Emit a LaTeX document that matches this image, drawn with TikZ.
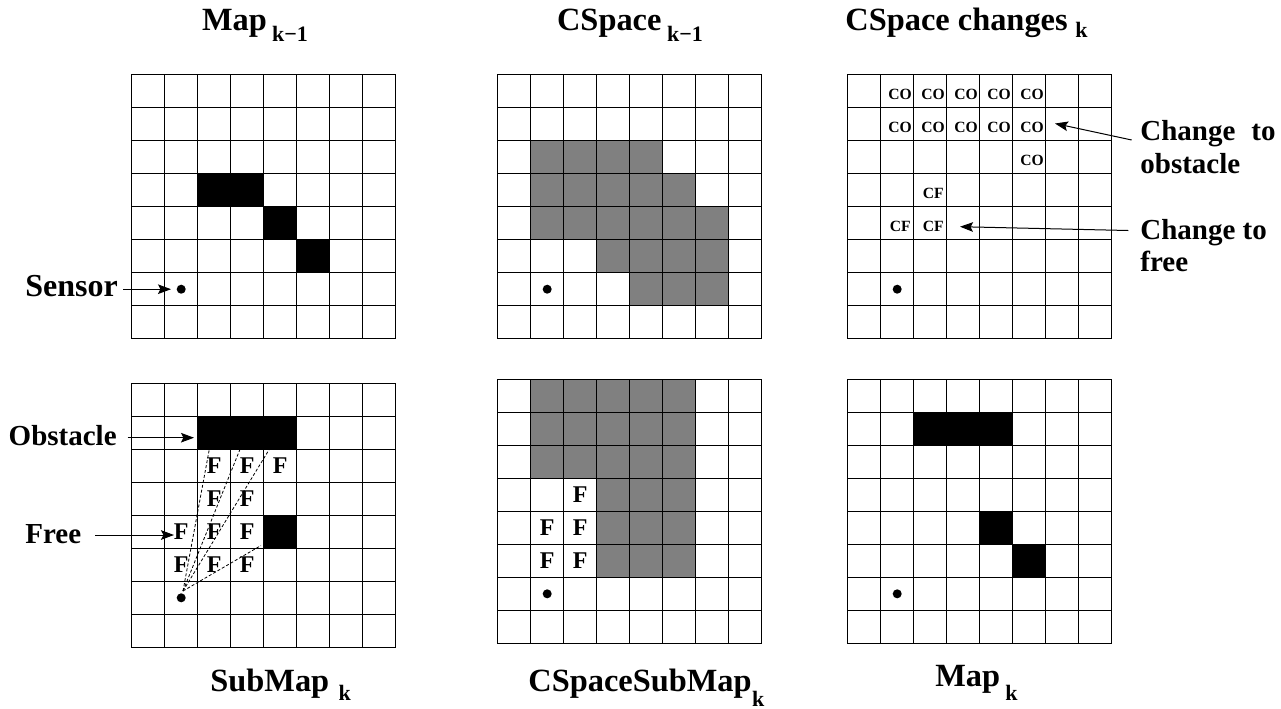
\documentclass[tikz,border=0pt]{standalone}
\usepackage{fontspec}
\setmainfont{Liberation Serif}
\usetikzlibrary{arrows.meta}
\definecolor{cgray}{RGB}{128,128,128}
\tikzset{
  gridline/.style={line width=0.6pt, line cap=rect},
  ttl/.style={font=\fontsize{16.2}{18}\selectfont\bfseries, inner sep=0pt, anchor=base west},
  subs/.style={font=\fontsize{11}{12}\selectfont\bfseries, inner sep=0pt, anchor=base west},
  lbl/.style={font=\fontsize{14.5}{16}\selectfont\bfseries, inner sep=0pt, anchor=base west},
  ftxt/.style={font=\fontsize{12}{14}\selectfont\bfseries, inner sep=0pt},
  ctxt/.style={font=\fontsize{7.8}{9}\selectfont\bfseries, inner sep=0pt},
  dotn/.style={circle, fill=black, inner sep=0pt, minimum size=4.5pt},
  arr/.style={-{Stealth[length=6.5pt,width=4.8pt,inset=1.2pt]}, line width=0.5pt},
  ray/.style={dash pattern=on 1.5pt off 1pt, line width=0.4pt},
  obst/.style={fill=black},
  cspc/.style={fill=cgray}
}
\newcommand{\gridlines}{%
  \foreach \i in {0,...,8}{\draw[gridline] (\i,0)--(\i,8); \draw[gridline] (0,\i)--(8,\i);}}
\begin{document}
\begin{tikzpicture}[x=0.5pt,y=-0.5pt]
\useasboundingbox (0,0) rectangle (1281,708);
\fill[white] (0,0) rectangle (1281,708);

% ---------- titles ----------
\node[ttl] (t1) at (201.7,30) {Map};
\node[subs] (t1s) at (271.7,41.7) {k−1};
\node[ttl] (t2) at (556.7,30) {CSpace};
\node[subs] (t2s) at (666.7,41.7) {k−1};
\node[ttl] (t3) at (845,30) {CSpace changes};
\node[subs] (t3s) at (1075,37.3) {k};
\node[ttl] (t4) at (210,691.7) {SubMap};
\node[subs] (t4s) at (338.3,700) {k};
\node[ttl] (t5) at (528,691.7) {CSpaceSubMap};
\node[subs] (t5s) at (751.7,706) {k};
\node[ttl] (t6) at (935,686.7) {Map};
\node[subs] (t6s) at (1005,700) {k};

% ---------- grid 1: Map_{k-1} ----------
\begin{scope}[shift={(131.7,74.7)}, x=16.5pt, y=-16.5pt]
  \fill[obst] (2,3) rectangle (4,4);
  \fill[obst] (4,4) rectangle (5,5);
  \fill[obst] (5,5) rectangle (6,6);
  \gridlines
  \node[dotn] (g1dot) at (1.5,6.5) {};
\end{scope}

% ---------- grid 2: CSpace_{k-1} ----------
\begin{scope}[shift={(497.7,74.7)}, x=16.5pt, y=-16.5pt]
  \fill[cspc] (1,2) rectangle (5,3);
  \fill[cspc] (1,3) rectangle (6,4);
  \fill[cspc] (1,4) rectangle (7,5);
  \fill[cspc] (3,5) rectangle (7,6);
  \fill[cspc] (4,6) rectangle (7,7);
  \gridlines
  \node[dotn] (g2dot) at (1.5,6.5) {};
\end{scope}

% ---------- grid 3: CSpace changes_k ----------
\begin{scope}[shift={(847.7,74.7)}, x=16.5pt, y=-16.5pt]
  \gridlines
  \foreach \c in {1,...,5}{
    \node[ctxt] (co0\c) at (\c+0.59,0.61) {CO};
    \node[ctxt] (co1\c) at (\c+0.59,1.61) {CO};
  }
  \node[ctxt] (co25) at (5.59,2.61) {CO};
  \node[ctxt] (cf32) at (2.59,3.61) {CF};
  \node[ctxt] (cf41) at (1.59,4.61) {CF};
  \node[ctxt] (cf42) at (2.59,4.61) {CF};
  \node[dotn] (g3dot) at (1.5,6.5) {};
\end{scope}

% ---------- grid 4: SubMap_k ----------
\begin{scope}[shift={(131.7,383.3)}, x=16.5pt, y=-16.5pt]
  \fill[obst] (2,1) rectangle (5,2);
  \fill[obst] (4,4) rectangle (5,5);
  \gridlines
  \foreach \c in {2,3,4}{\node[ftxt] (f2\c) at (\c+0.5,2.5) {F};}
  \foreach \c in {2,3}{\node[ftxt] (f3\c) at (\c+0.5,3.5) {F};}
  \foreach \c in {1,2,3}{\node[ftxt] (f4\c) at (\c+0.5,4.5) {F};}
  \foreach \c in {1,2,3}{\node[ftxt] (f5\c) at (\c+0.5,5.5) {F};}
  \node[dotn] (g4dot) at (1.5,6.5) {};
\end{scope}
\coordinate (raysrc) at (183,591);
\coordinate (rayA) at (209.3,449.3);
\coordinate (rayB) at (240,449.3);
\coordinate (rayC) at (269.3,449.3);
\coordinate (rayD) at (261,545.5);
\draw[ray] (raysrc) -- (rayA);
\draw[ray] (raysrc) -- (rayB);
\draw[ray] (raysrc) -- (rayC);
\draw[ray] (raysrc) -- (rayD);

% ---------- grid 5: CSpaceSubMap_k ----------
\begin{scope}[shift={(497.7,379.3)}, x=16.5pt, y=-16.5pt]
  \fill[cspc] (1,0) rectangle (6,3);
  \fill[cspc] (3,3) rectangle (6,6);
  \gridlines
  \node[ftxt] (h32) at (2.5,3.5) {F};
  \node[ftxt] (h41) at (1.5,4.5) {F};
  \node[ftxt] (h42) at (2.5,4.5) {F};
  \node[ftxt] (h51) at (1.5,5.5) {F};
  \node[ftxt] (h52) at (2.5,5.5) {F};
  \node[dotn] (g5dot) at (1.5,6.5) {};
\end{scope}

% ---------- grid 6: Map_k ----------
\begin{scope}[shift={(847.7,379.3)}, x=16.5pt, y=-16.5pt]
  \fill[obst] (2,1) rectangle (5,2);
  \fill[obst] (4,4) rectangle (5,5);
  \fill[obst] (5,5) rectangle (6,6);
  \gridlines
  \node[dotn] (g6dot) at (1.5,6.5) {};
\end{scope}

% ---------- side labels and arrows ----------
\node[lbl, font=\fontsize{16}{18}\selectfont\bfseries] (sensorlbl) at (25,296.7) {Sensor};
\coordinate (sensortail) at (123.3,289.2);
\coordinate (sensortip) at (171,289.2);
\draw[arr] (sensortail) -- (sensortip);

\node[lbl] (obstlbl) at (8.3,445) {Obstacle};
\coordinate (obsttail) at (127.7,437.7);
\coordinate (obsttip) at (194,437.7);
\draw[arr] (obsttail) -- (obsttip);

\node[lbl] (freelbl) at (25,543.3) {Free};
\coordinate (freetail) at (95,535);
\coordinate (freetip) at (174,535);
\draw[arr] (freetail) -- (freetip);

\node[lbl] (chobs1) at (1140,140) {Change\hspace{0.3em} to};
\node[lbl] (chobs2) at (1140,173.3) {obstacle};
\coordinate (chobstail) at (1131.7,140);
\coordinate (chobstip) at (1055,123.5);
\draw[arr] (chobstail) -- (chobstip);

\node[lbl] (chfree1) at (1140,239.3) {Change to};
\node[lbl] (chfree2) at (1140,271.7) {free};
\coordinate (chfreetail) at (1128.3,230.5);
\coordinate (chfreetip) at (960,226.7);
\draw[arr] (chfreetail) -- (chfreetip);
\end{tikzpicture}
\end{document}
